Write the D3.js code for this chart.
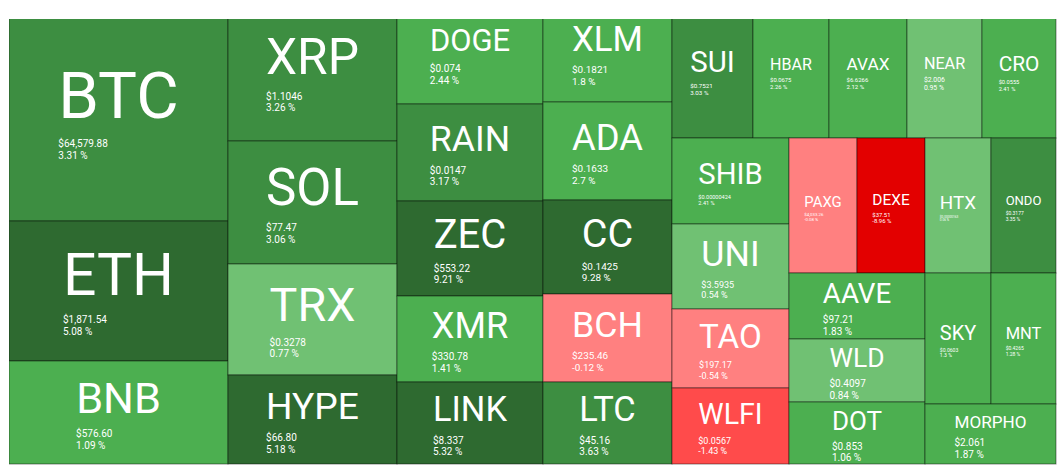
<!DOCTYPE html>
<html>
<head>
<meta charset="utf-8">
<script src="https://cdn.jsdelivr.net/npm/d3@7"></script>
<style>
  html, body { margin: 0; padding: 0; background: #fff; }
  svg { display: block; font-family: Roboto, "Noto Sans", sans-serif; }
  .cell rect { stroke: rgba(0, 0, 0, 0.45); stroke-width: 1px; }
  .cell text { fill: #fff; }
</style>
</head>
<body>
<script>
// coins, in the order they sit in the map (column by column)
const symbols = [
  "BTC", "ETH", "BNB",
  "XRP", "SOL", "TRX", "HYPE",
  "DOGE", "RAIN", "ZEC", "XMR", "LINK",
  "XLM", "ADA", "CC", "BCH", "LTC",
  "SUI", "HBAR", "AVAX", "NEAR", "CRO",
  "SHIB", "UNI", "TAO", "WLFI",
  "PAXG", "DEXE", "HTX", "ONDO",
  "AAVE", "WLD", "DOT", "SKY", "MNT", "MORPHO"
];
const prices = [
  "$64,579.88", "$1,871.54", "$576.60",
  "$1.1046", "$77.47", "$0.3278", "$66.80",
  "$0.074", "$0.0147", "$553.22", "$330.78", "$8.337",
  "$0.1821", "$0.1633", "$0.1425", "$235.46", "$45.16",
  "$0.7521", "$0.0675", "$6.6266", "$2.006", "$0.0555",
  "$0.00000424", "$3.5935", "$197.17", "$0.0567",
  "$4,033.26", "$37.51", "$0.00000163", "$0.3177",
  "$97.21", "$0.4097", "$0.853", "$0.0603", "$0.4265", "$2.061"
];
const changes = [
  3.31, 5.08, 1.09,
  3.26, 3.06, 0.77, 5.18,
  2.44, 3.17, 9.21, 1.41, 5.32,
  1.8, 2.7, 9.28, -0.12, 3.63,
  3.03, 2.26, 2.12, 0.95, 2.41,
  2.41, 0.54, -0.54, -1.43,
  -0.08, -8.96, 0.06, 3.35,
  1.83, 0.84, 1.06, 1.3, 1.28, 1.87
];
// tile weights (relative area of each cell,
// top row includes the strip hidden above the visible frame)
const weights = [
  47742, 30660, 22557,
  23322, 20787, 18759, 15041,
  14746, 14162, 13870, 12556, 11972,
  12771, 12642, 12126, 11352, 10578,
  10935, 10260, 10530, 10125, 9990,
  10062, 9945, 9243, 8892,
  9180, 9180, 8910, 8775,
  8976, 8568, 8432, 8646, 8515, 7860
];
// how the tiles are grouped: "h" = side by side, "v" = stacked
const groups = ["h", [
  ["v", ["BTC", "ETH", "BNB"]],
  ["v", ["XRP", "SOL", "TRX", "HYPE"]],
  ["v", ["DOGE", "RAIN", "ZEC", "XMR", "LINK"]],
  ["v", ["XLM", "ADA", "CC", "BCH", "LTC"]],
  ["v", [
    ["h", ["SUI", "HBAR", "AVAX", "NEAR", "CRO"]],
    ["h", [
      ["v", ["SHIB", "UNI", "TAO", "WLFI"]],
      ["v", [
        ["h", ["PAXG", "DEXE", "HTX", "ONDO"]],
        ["h", [
          ["v", ["AAVE", "WLD", "DOT"]],
          ["v", [["h", ["SKY", "MNT"]], "MORPHO"]]
        ]]
      ]]
    ]]
  ]]
]];
const changeSteps = [-3, -1, 0, 1, 3, 5];
const changeColors = ["#e30000", "#ff4b4b", "#ff8080", "#70c173", "#4caf50", "#3d8e41", "#2e6a30"];

const width = 1064, height = 475;
// the map starts a little above the visible frame and is clipped at y=19
const margin = { top: 3, right: 8, bottom: 11, left: 9 };
const visibleTop = 19;
const innerW = width - margin.left - margin.right;
const innerH = height - margin.top - margin.bottom;

const color = d3.scaleThreshold().domain(changeSteps).range(changeColors);

function toNode(t) {
  if (typeof t === "string") {
    const i = symbols.indexOf(t);
    return { name: t, index: i, value: weights[i] };
  }
  return { dir: t[0], children: t[1].map(toNode) };
}

const root = d3.hierarchy(toNode(groups)).sum(d => d.value || 0);

d3.treemap()
  .size([innerW, innerH])
  .tile((node, x0, y0, x1, y1) =>
    (node.data.dir === "h" ? d3.treemapDice : d3.treemapSlice)(node, x0, y0, x1, y1))(root);

const svg = d3.select("body").append("svg")
  .attr("width", width)
  .attr("height", height);

svg.append("clipPath").attr("id", "frame")
  .append("rect")
  .attr("x", 0)
  .attr("y", visibleTop - margin.top)
  .attr("width", innerW + 1)
  .attr("height", innerH - (visibleTop - margin.top) + 1);

const g = svg.append("g")
  .attr("transform", `translate(${margin.left},${margin.top})`)
  .attr("clip-path", "url(#frame)");

const cell = g.selectAll("g.cell")
  .data(root.leaves())
  .join("g")
  .attr("class", "cell")
  .attr("transform", d => `translate(${d.x0},${d.y0})`);

cell.append("rect")
  .attr("width", d => d.x1 - d.x0)
  .attr("height", d => d.y1 - d.y0)
  .attr("fill", d => color(changes[d.data.index]));

cell.each(function (d) {
  const el = d3.select(this);
  const w = d.x1 - d.x0;
  // size text on the visible part of the tile
  const hidden = Math.max(0, visibleTop - margin.top - d.y0);
  const h = d.y1 - d.y0 - hidden;
  const i = d.data.index;
  const lines = [prices[i], `${changes[i]} %`];

  // symbol: fit to about half the cell width, capped by the height
  const sym = el.append("text").text(symbols[i]).attr("font-size", 100);
  const symEm = sym.node().getComputedTextLength() / 100;
  const fs = Math.min(0.55 * w / symEm, 0.42 * h);
  const symW = symEm * fs;

  // price / change lines: at most 10px, about a quarter of the cell wide
  const subs = lines.map(t => el.append("text").text(t).attr("font-size", 100));
  const subEm = d3.max(subs, s => s.node().getComputedTextLength()) / 100;
  const sf = Math.min(10, 0.28 * w / subEm);

  const blockH = 0.961 * fs + 2.5 * sf;
  const top = (d.y1 - d.y0) / 2 - blockH / 2 + 3;
  const symBase = top + 0.711 * fs;
  const priceBase = symBase + 0.25 * fs + 1.35 * sf;
  const left = w / 2 - symW / 2;

  sym.attr("font-size", fs)
    .attr("x", w / 2)
    .attr("y", symBase)
    .attr("text-anchor", "middle");

  subs.forEach((s, k) => {
    s.attr("font-size", sf)
      .attr("x", left)
      .attr("y", priceBase + k * 1.15 * sf);
  });
});
</script>
</body>
</html>
